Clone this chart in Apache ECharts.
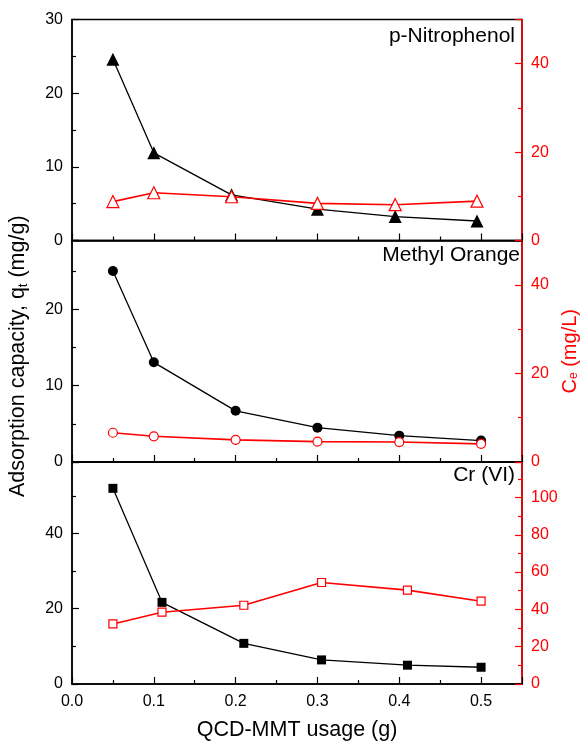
<!DOCTYPE html>
<html>
<head>
<meta charset="utf-8">
<script src="https://cdn.jsdelivr.net/npm/echarts@6/dist/echarts.min.js"></script>
<style>
  html, body { margin: 0; padding: 0; background: #fff; }
  #chart { width: 580px; height: 743px; }
</style>
</head>
<body>
<div id="chart"></div>
<script>
// 数据
var panelNames = ['p-Nitrophenol', 'Methyl Orange', 'Cr (VI)'];

var xPNP = [0.05, 0.10, 0.195, 0.30, 0.395, 0.495];
var qtPNP = [24.6, 11.9, 6.2, 4.25, 3.25, 2.65];
var cePNP = [8.8, 10.8, 9.9, 8.4, 8.1, 8.9];

var xMO = [0.05, 0.10, 0.20, 0.30, 0.40, 0.50];
var qtMO = [25.0, 13.05, 6.7, 4.5, 3.45, 2.8];
var ceMO = [6.6, 5.8, 5.0, 4.6, 4.5, 4.1];

var xCr = [0.05, 0.11, 0.21, 0.305, 0.41, 0.50];
var qtCr = [52.0, 21.7, 10.8, 6.4, 5.0, 4.45];
var ceCr = [32.2, 38.5, 42.2, 54.4, 50.3, 44.4];

// 轴范围
var leftMax = [30, 29, 59];
var leftInterval = [10, 10, 20];
var rightMax = [50, 50, 119];
var rightInterval = [20, 20, 20];

var FONT = 'Liberation Sans, Arial, sans-serif';
var RED = '#ff0000';

function pairs(xs, ys) {
    return xs.map(function (x, i) { return [x, ys[i]]; });
}

var myChart = echarts.init(document.getElementById('chart'));

var gridTops = [19.5, 240.5, 462];
var gridHeights = [221, 221.5, 222];
var grids = [0, 1, 2].map(function (i) {
    return {
        left: 72, right: 58, top: gridTops[i], height: gridHeights[i],
        outerBoundsMode: 'none', containLabel: false,
        show: true, borderColor: '#000', borderWidth: 1.5
    };
});

var xAxes = [0, 1, 2].map(function (i) {
    return {
        type: 'value',
        gridIndex: i,
        min: 0,
        max: 0.55,
        interval: 0.1,
        axisLine: { lineStyle: { color: '#000', width: 1.5 } },
        axisTick: { inside: true, length: 7, lineStyle: { color: '#000', width: 1.2 } },
        minorTick: { show: true, splitNumber: 2, length: 4, lineStyle: { color: '#000', width: 1.2 } },
        splitLine: { show: false },
        axisLabel: {
            show: i === 2,
            showMaxLabel: false,
            margin: 10,
            color: '#000',
            fontSize: 16,
            fontFamily: FONT,
            formatter: function (v) { return v.toFixed(1); }
        },
        name: i === 2 ? 'QCD-MMT usage (g)' : '',
        nameLocation: 'middle',
        nameGap: 35,
        nameTextStyle: { color: '#000', fontSize: 21.5, fontFamily: FONT }
    };
});

var yAxes = [];
[0, 1, 2].forEach(function (i) {
    yAxes.push({
        type: 'value',
        gridIndex: i,
        position: 'left',
        min: 0,
        max: leftMax[i],
        interval: leftInterval[i],
        axisLine: { show: true, lineStyle: { color: '#000', width: 1.5 } },
        axisTick: { inside: true, length: 7, lineStyle: { color: '#000', width: 1.2 } },
        minorTick: { show: true, splitNumber: 2, length: 4, lineStyle: { color: '#000', width: 1.2 } },
        splitLine: { show: false },
        axisLabel: { showMaxLabel: i === 0, margin: 9, color: '#000', fontSize: 16, fontFamily: FONT },
        name: i === 1 ? '{a|Adsorption capacity, q}{s|t}{a| (mg/g)}' : '',
        nameLocation: 'middle',
        nameRotate: 90,
        nameGap: 42,
        nameTextStyle: {
            padding: [0, 10, 0, 0],
            rich: {
                a: { color: '#000', fontSize: 21.5, fontFamily: FONT },
                s: { color: '#000', fontSize: 13, fontFamily: FONT, verticalAlign: 'bottom', padding: [10, 0, 0, 0] }
            }
        }
    });
    yAxes.push({
        type: 'value',
        gridIndex: i,
        position: 'right',
        min: 0,
        max: rightMax[i],
        interval: rightInterval[i],
        axisLine: { show: true, lineStyle: { color: RED, width: 1.5 } },
        axisTick: { inside: true, length: 7, lineStyle: { color: RED, width: 1.2 } },
        minorTick: { show: true, splitNumber: 2, length: 4, lineStyle: { color: RED, width: 1.2 } },
        splitLine: { show: false },
        axisLabel: { showMaxLabel: false, margin: 9, color: RED, fontSize: 16, fontFamily: FONT },
        name: i === 1 ? '{a|C}{s|e}{a| (mg/L)}' : '',
        nameLocation: 'middle',
        nameRotate: 90,
        nameGap: 38,
        nameTextStyle: {
            rich: {
                a: { color: RED, fontSize: 20, fontFamily: FONT },
                s: { color: RED, fontSize: 12, fontFamily: FONT, verticalAlign: 'bottom', padding: [8, 0, 0, 0] }
            }
        }
    });
});

function qtSeries(idx, xs, ys, symbol, size) {
    return {
        type: 'line',
        xAxisIndex: idx,
        yAxisIndex: idx * 2,
        data: pairs(xs, ys),
        symbol: symbol,
        symbolSize: size,
        lineStyle: { color: '#000', width: 1.3 },
        itemStyle: { color: '#000', borderColor: '#000', borderWidth: 0 },
        z: 2
    };
}

function ceSeries(idx, xs, ys, symbol, size) {
    return {
        type: 'line',
        xAxisIndex: idx,
        yAxisIndex: idx * 2 + 1,
        data: pairs(xs, ys),
        symbol: symbol,
        symbolSize: size,
        lineStyle: { color: RED, width: 1.6 },
        itemStyle: { color: '#fff', borderColor: RED, borderWidth: 1.2 },
        z: 3
    };
}

var option = {
    animation: false,
    grid: grids,
    xAxis: xAxes,
    yAxis: yAxes,
    graphic: [
        { type: 'text', right: 65, top: 26, style: { text: panelNames[0], fill: '#000', font: '21px ' + FONT } },
        { type: 'text', right: 60, top: 245, style: { text: panelNames[1], fill: '#000', font: '21px ' + FONT } },
        { type: 'text', right: 65, top: 465, style: { text: panelNames[2], fill: '#000', font: '21px ' + FONT } }
    ],
    series: [
        qtSeries(0, xPNP, qtPNP, 'triangle', 13),
        ceSeries(0, xPNP, cePNP, 'triangle', 12),
        qtSeries(1, xMO, qtMO, 'circle', 10),
        ceSeries(1, xMO, ceMO, 'circle', 9),
        qtSeries(2, xCr, qtCr, 'rect', 9),
        ceSeries(2, xCr, ceCr, 'rect', 8)
    ]
};

myChart.setOption(option);
</script>
</body>
</html>
